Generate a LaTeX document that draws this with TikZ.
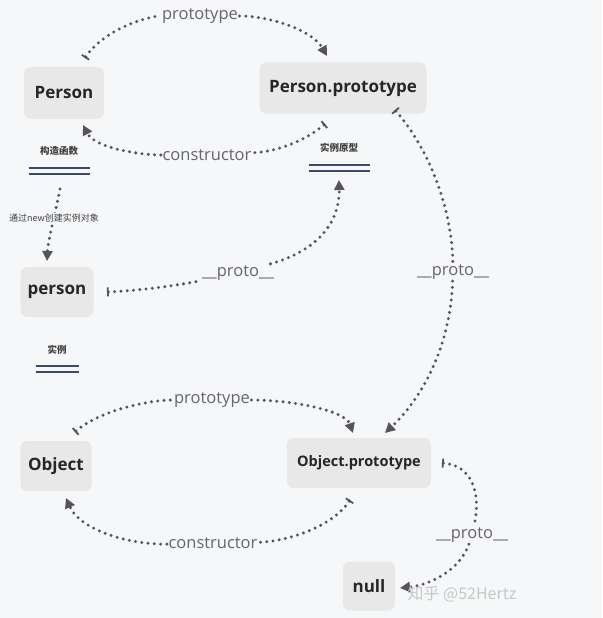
\documentclass[tikz,border=0pt]{standalone}
\usepackage{fontspec}
\setmainfont{Open Sans}
\newfontfamily\cjk{Noto Sans CJK SC}
\usetikzlibrary{arrows.meta}
\definecolor{bgcol}{RGB}{246,247,249}
\definecolor{boxcol}{RGB}{232,232,232}
\definecolor{linkcol}{RGB}{85,85,88}
\definecolor{barcol}{RGB}{60,74,104}
\tikzset{
  box/.style={fill=boxcol, rounded corners=7pt, font=\bfseries\fontsize{17}{19}\selectfont, text=black!85},
  lbl/.style={fill=bgcol, inner sep=1.5pt, font=\fontsize{16.5}{18}\selectfont, text=linkcol!90},
  note/.style={font=\cjk\bfseries\fontsize{9.5}{11}\selectfont, text=black!75},
  link/.style={draw=linkcol, line width=3.3pt, line cap=round, dash pattern=on 0pt off 6.3pt},
  fromtip/.style={{Bar[width=9pt,line width=1.8pt,sep=0pt]}-},
  totip/.style={-{Triangle[length=10pt,width=10pt,sep=0pt]}},
  dbl/.style={draw=barcol, double=bgcol, double distance=3.8pt, line width=2.4pt}
}
\begin{document}
\begin{tikzpicture}[x=1pt,y=-1pt]
	\fill[bgcol] (0,0) rectangle (602,618);
	\useasboundingbox (0,0) rectangle (602,618);

	% Boxes
	\node[box, minimum width=80, minimum height=52] (Person) at (64,93) {Person};
	\node[box, minimum width=167, minimum height=51] (PersonProto) at (343,88) {Person.prototype};
	\node[box, minimum width=73, minimum height=50] (person) at (57,292) {person};
	\node[box, minimum width=71, minimum height=50] (Object) at (56,466) {Object};
	\node[box, minimum width=144, minimum height=50, inner xsep=2pt, font=\bfseries\fontsize{14.5}{17}\selectfont] (ObjectProto) at (359,463) {Object.prototype};
	\node[box, minimum width=52, minimum height=49] (null) at (369,586) {null};

	% Notes
	\node[note] (ctorNote) at (59,151) {构造函数};
	\draw[dbl] (29,171) -- (90,171);
	\node[note] (protoNote) at (339,148) {实例原型};
	\draw[dbl] (309,168) -- (370,168);
	\node[note] (instNote) at (57,350) {实例};
	\draw[dbl] (36,369) -- (79,369);

	% Ends
	\coordinate (p1s) at (85,58);   \coordinate (p1e) at (327,56);
	\coordinate (c1s) at (325,124); \coordinate (c1e) at (83,125);
	\coordinate (n1s) at (60,189);  \coordinate (n1e) at (47,261);
	\coordinate (q1s) at (107,292); \coordinate (q1e) at (339,180);
	\coordinate (q2s) at (395,110); \coordinate (q2e) at (385,433);
	\coordinate (p2s) at (75,432);  \coordinate (p2e) at (353,433);
	\coordinate (c2s) at (350,500); \coordinate (c2e) at (66,498);
	\coordinate (q3s) at (442,463); \coordinate (q3e) at (400,588);

	% Labels
	\node[lbl] (protoTop) at (200,16) {prototype};
	\node[lbl] (ctorTop) at (207,155) {constructor};
	\node[lbl] (protoPerson) at (238,273) {\_\_proto\_\_};
	\node[lbl] (protoPP) at (453,272) {\_\_proto\_\_};
	\node[lbl] (protoBot) at (212,400) {prototype};
	\node[lbl] (ctorBot) at (213,543) {constructor};
	\node[lbl] (protoNull) at (472,535) {\_\_proto\_\_};

	% Links
	\draw[link, fromtip] (p1s) .. controls (105,28) and (150,16) .. (protoTop);
	\draw[link, totip] (protoTop) .. controls (270,16) and (312,30) .. (p1e);
	\draw[link, fromtip] (c1s) .. controls (300,145) and (270,152) .. (ctorTop);
	\draw[link, totip] (ctorTop) .. controls (140,155) and (95,148) .. (c1e);
	\draw[link, fromtip, totip] (n1s) .. controls (55,215) and (48,240) .. (n1e);
	\node[note, fill=bgcol, inner sep=1pt, font=\cjk\fontsize{9}{11}\selectfont] (newNote) at (54,218) {通过new创建实例对象};
	\draw[link, fromtip] (q1s) .. controls (150,290) and (190,283) .. (protoPerson);
	\draw[link, totip] (protoPerson) .. controls (320,250) and (340,220) .. (q1e);
	\draw[link, fromtip] (q2s) .. controls (430,150) and (452,210) .. (protoPP);
	\draw[link, totip] (protoPP) .. controls (450,350) and (420,400) .. (q2e);
	\draw[link, fromtip] (p2s) .. controls (100,410) and (150,400) .. (protoBot);
	\draw[link, totip] (protoBot) .. controls (290,400) and (345,410) .. (p2e);
	\draw[link, fromtip] (c2s) .. controls (330,530) and (280,542) .. (ctorBot);
	\draw[link, totip] (ctorBot) .. controls (130,545) and (80,530) .. (c2e);
	\draw[link, fromtip] (q3s) .. controls (470,465) and (482,490) .. (protoNull);
	\draw[link, totip] (protoNull) .. controls (460,570) and (430,585) .. (q3e);

	% Watermark
	\node[font=\cjk\fontsize{16}{18}\selectfont, text=black!22] (mark) at (462,594) {知乎 @52Hertz};
\end{tikzpicture}
\end{document}
